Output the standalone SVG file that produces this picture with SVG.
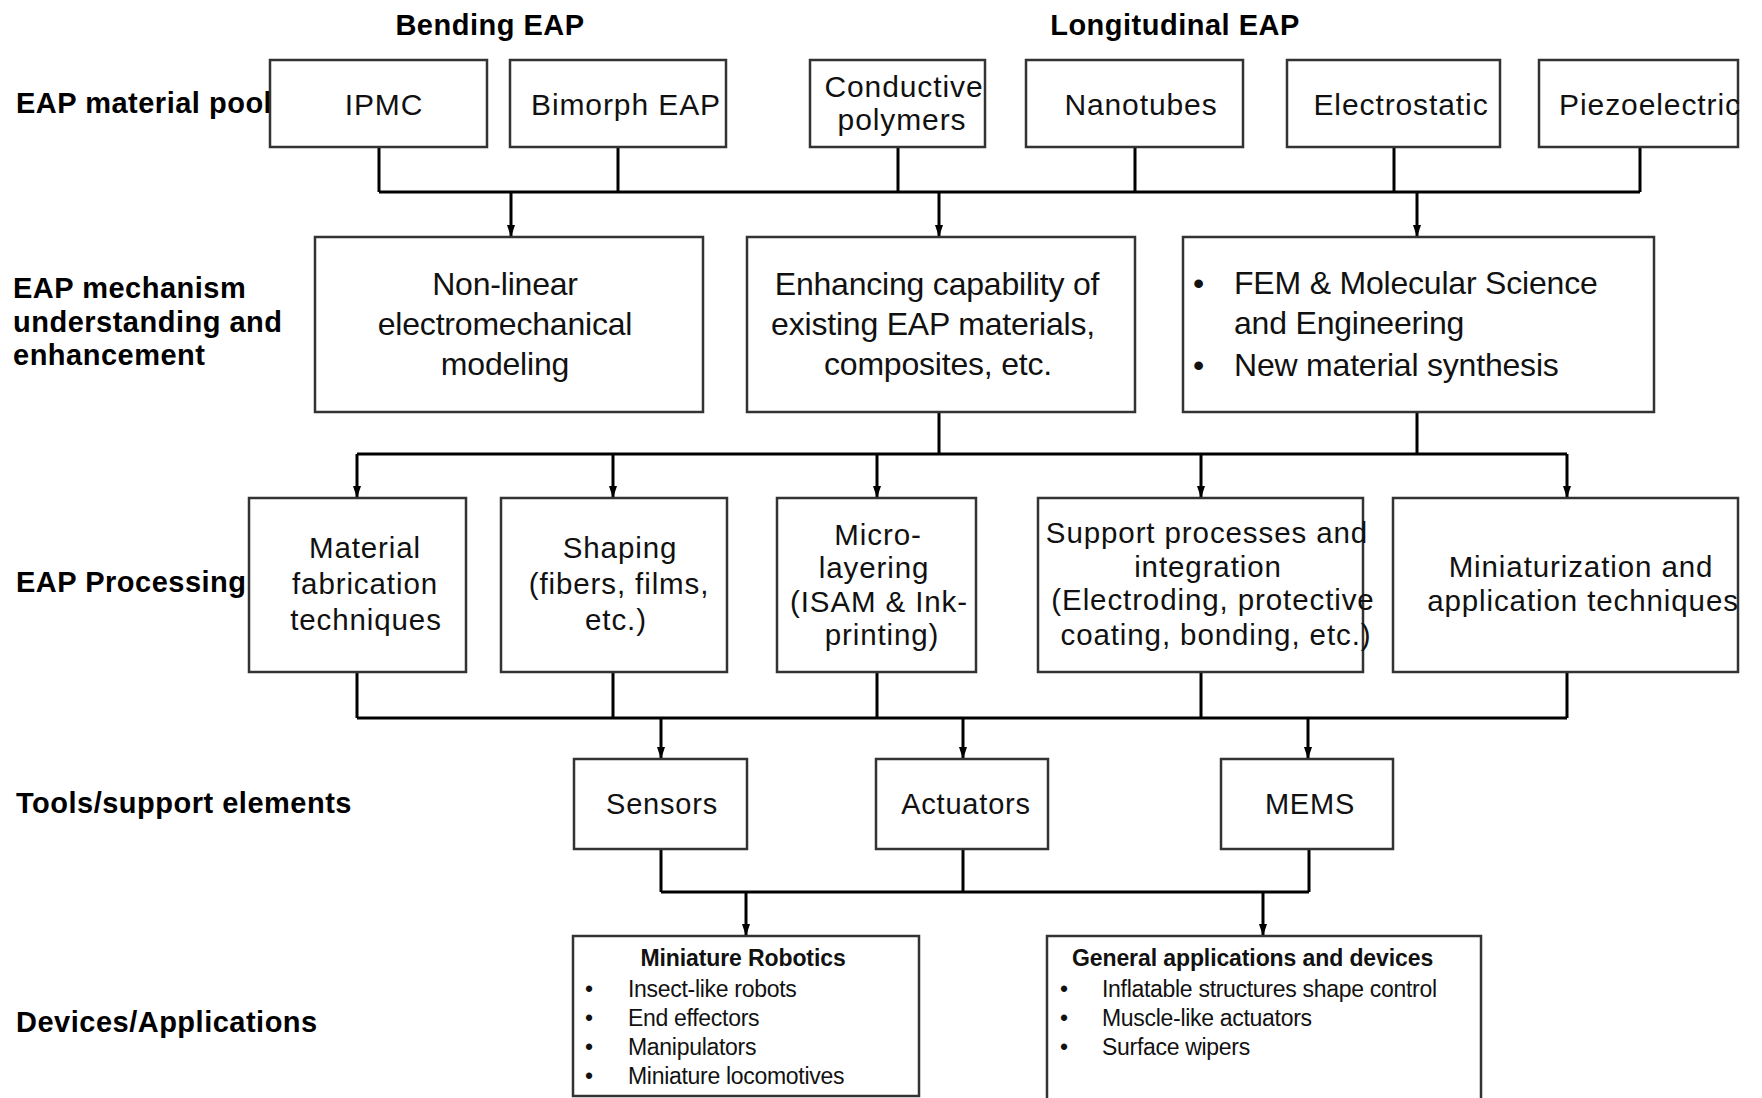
<svg xmlns="http://www.w3.org/2000/svg" width="1762" height="1098" viewBox="0 0 1762 1098">
<defs>
<style>
.box{fill:#fff;stroke:#333;stroke-width:2.5}
.lbl{font-family:"Liberation Sans",Arial,sans-serif;font-weight:bold;font-size:29px;letter-spacing:0.5px;fill:#000}
.t1{font-family:"Liberation Sans",Arial,sans-serif;font-size:30px;letter-spacing:0.9px;fill:#111;text-anchor:middle}
.t2{font-family:"Liberation Sans",Arial,sans-serif;font-size:32px;letter-spacing:-0.2px;fill:#111;text-anchor:middle}
.t2s{font-family:"Liberation Sans",Arial,sans-serif;font-size:32px;letter-spacing:-0.2px;fill:#111}
.t3{font-family:"Liberation Sans",Arial,sans-serif;font-size:29.5px;letter-spacing:0.9px;fill:#111;text-anchor:middle}
.t4{font-family:"Liberation Sans",Arial,sans-serif;font-size:29px;letter-spacing:0.8px;fill:#111;text-anchor:middle}
.h5{font-family:"Liberation Sans",Arial,sans-serif;font-weight:bold;font-size:23px;letter-spacing:-0.1px;fill:#111}
.i5{font-family:"Liberation Sans",Arial,sans-serif;font-size:23px;letter-spacing:-0.3px;fill:#111}
.ln{fill:none;stroke:#000;stroke-width:3}
</style>
<marker id="arr" markerUnits="userSpaceOnUse" markerWidth="12" markerHeight="10" refX="12" refY="5" orient="auto">
<path d="M0,1 L12,5 L0,9 z" fill="#000"/>
</marker>
</defs>
<rect width="1762" height="1098" fill="#fff"/>

<g id="headers">
<text class="lbl" x="490" y="35" text-anchor="middle">Bending EAP</text>
<text class="lbl" x="1175" y="35" text-anchor="middle">Longitudinal EAP</text>
</g>

<g id="row-labels">
<text class="lbl" x="16" y="113">EAP material pool</text>
<text class="lbl" x="13" y="298">EAP mechanism</text>
<text class="lbl" x="13" y="332">understanding and</text>
<text class="lbl" x="13" y="365">enhancement</text>
<text class="lbl" x="16" y="592">EAP Processing</text>
<text class="lbl" x="16" y="813">Tools/support elements</text>
<text class="lbl" x="16" y="1032">Devices/Applications</text>
</g>

<g id="connectors">
<path class="ln" d="M379,147 V192 M618,147 V192 M898,147 V192 M1135,147 V192 M1394,147 V192 M1640,147 V192 M379,192 H1640"/>
<path class="ln" d="M511,192 V237" marker-end="url(#arr)"/>
<path class="ln" d="M939,192 V237" marker-end="url(#arr)"/>
<path class="ln" d="M1417,192 V237" marker-end="url(#arr)"/>
<path class="ln" d="M939,412 V454 M1417,412 V454 M357,454 H1567"/>
<path class="ln" d="M357,454 V498" marker-end="url(#arr)"/>
<path class="ln" d="M613,454 V498" marker-end="url(#arr)"/>
<path class="ln" d="M877,454 V498" marker-end="url(#arr)"/>
<path class="ln" d="M1201,454 V498" marker-end="url(#arr)"/>
<path class="ln" d="M1567,454 V498" marker-end="url(#arr)"/>
<path class="ln" d="M357,672 V718 M613,672 V718 M877,672 V718 M1201,672 V718 M1567,672 V718 M357,718 H1567"/>
<path class="ln" d="M661,718 V759" marker-end="url(#arr)"/>
<path class="ln" d="M963,718 V759" marker-end="url(#arr)"/>
<path class="ln" d="M1308,718 V759" marker-end="url(#arr)"/>
<path class="ln" d="M661,849 V892 M963,849 V892 M1309,849 V892 M661,892 H1309"/>
<path class="ln" d="M746,892 V936" marker-end="url(#arr)"/>
<path class="ln" d="M1263,892 V936" marker-end="url(#arr)"/>
</g>

<g id="ipmc"><rect class="box" x="270" y="60" width="217" height="87"/><text class="t1" x="384" y="115">IPMC</text></g>
<g id="bimorph"><rect class="box" x="510" y="60" width="216" height="87"/><text class="t1" x="626" y="115">Bimorph EAP</text></g>
<g id="conductive"><rect class="box" x="810" y="60" width="175" height="87"/><text class="t1" x="904" y="97">Conductive</text><text class="t1" x="902" y="130">polymers</text></g>
<g id="nanotubes"><rect class="box" x="1026" y="60" width="217" height="87"/><text class="t1" x="1141" y="115">Nanotubes</text></g>
<g id="electrostatic"><rect class="box" x="1287" y="60" width="213" height="87"/><text class="t1" x="1401" y="115">Electrostatic</text></g>
<g id="piezoelectric"><rect class="box" x="1539" y="60" width="199" height="87"/><text class="t1" x="1650" y="115">Piezoelectric</text></g>

<g id="nonlinear"><rect class="box" x="315" y="237" width="388" height="175"/>
<text class="t2" x="505" y="295">Non-linear</text><text class="t2" x="505" y="335">electromechanical</text><text class="t2" x="505" y="375">modeling</text></g>
<g id="enhancing"><rect class="box" x="747" y="237" width="388" height="175"/>
<text class="t2" x="937" y="295">Enhancing capability of</text><text class="t2" x="933" y="335">existing EAP materials,</text><text class="t2" x="938" y="375">composites, etc.</text></g>
<g id="fem"><rect class="box" x="1183" y="237" width="471" height="175"/>
<text class="t2s" x="1193" y="294">•</text><text class="t2s" x="1234" y="294">FEM &amp; Molecular Science</text>
<text class="t2s" x="1234" y="334">and Engineering</text>
<text class="t2s" x="1193" y="376">•</text><text class="t2s" x="1234" y="376">New material synthesis</text></g>

<g id="material"><rect class="box" x="249" y="498" width="217" height="174"/>
<text class="t3" x="365" y="558">Material</text><text class="t3" x="365" y="594">fabrication</text><text class="t3" x="366" y="630">techniques</text></g>
<g id="shaping"><rect class="box" x="501" y="498" width="226" height="174"/>
<text class="t3" x="620" y="558">Shaping</text><text class="t3" x="619" y="594">(fibers, films,</text><text class="t3" x="616" y="630">etc.)</text></g>
<g id="microlayering"><rect class="box" x="777" y="498" width="199" height="174"/>
<text class="t3" x="878" y="545">Micro-</text><text class="t3" x="874" y="578">layering</text><text class="t3" x="879" y="612">(ISAM &amp; Ink-</text><text class="t3" x="882" y="645">printing)</text></g>
<g id="support"><rect class="box" x="1038" y="498" width="325" height="174"/>
<text class="t3" x="1207" y="543">Support processes and</text><text class="t3" x="1208" y="577">integration</text><text class="t3" x="1213" y="610">(Electroding, protective</text><text class="t3" x="1216" y="645">coating, bonding, etc.)</text></g>
<g id="miniaturization"><rect class="box" x="1393" y="498" width="345" height="174"/>
<text class="t3" x="1581" y="577">Miniaturization and</text><text class="t3" x="1583" y="611">application techniques</text></g>

<g id="sensors"><rect class="box" x="574" y="759" width="173" height="90"/><text class="t4" x="662" y="814">Sensors</text></g>
<g id="actuators"><rect class="box" x="876" y="759" width="172" height="90"/><text class="t4" x="966" y="814">Actuators</text></g>
<g id="mems"><rect class="box" x="1221" y="759" width="172" height="90"/><text class="t4" x="1310" y="814">MEMS</text></g>

<g id="robotics"><rect class="box" x="573" y="936" width="346" height="160"/>
<text class="h5" x="743" y="966" text-anchor="middle">Miniature Robotics</text>
<text class="i5" x="585" y="997">•</text><text class="i5" x="628" y="997">Insect-like robots</text>
<text class="i5" x="585" y="1026">•</text><text class="i5" x="628" y="1026">End effectors</text>
<text class="i5" x="585" y="1055">•</text><text class="i5" x="628" y="1055">Manipulators</text>
<text class="i5" x="585" y="1084">•</text><text class="i5" x="628" y="1084">Miniature locomotives</text></g>
<g id="general"><rect class="box" x="1047" y="936" width="434" height="200"/>
<text class="h5" x="1072" y="966">General applications and devices</text>
<text class="i5" x="1060" y="997">•</text><text class="i5" x="1102" y="997">Inflatable structures shape control</text>
<text class="i5" x="1060" y="1026">•</text><text class="i5" x="1102" y="1026">Muscle-like actuators</text>
<text class="i5" x="1060" y="1055">•</text><text class="i5" x="1102" y="1055">Surface wipers</text></g>
</svg>
